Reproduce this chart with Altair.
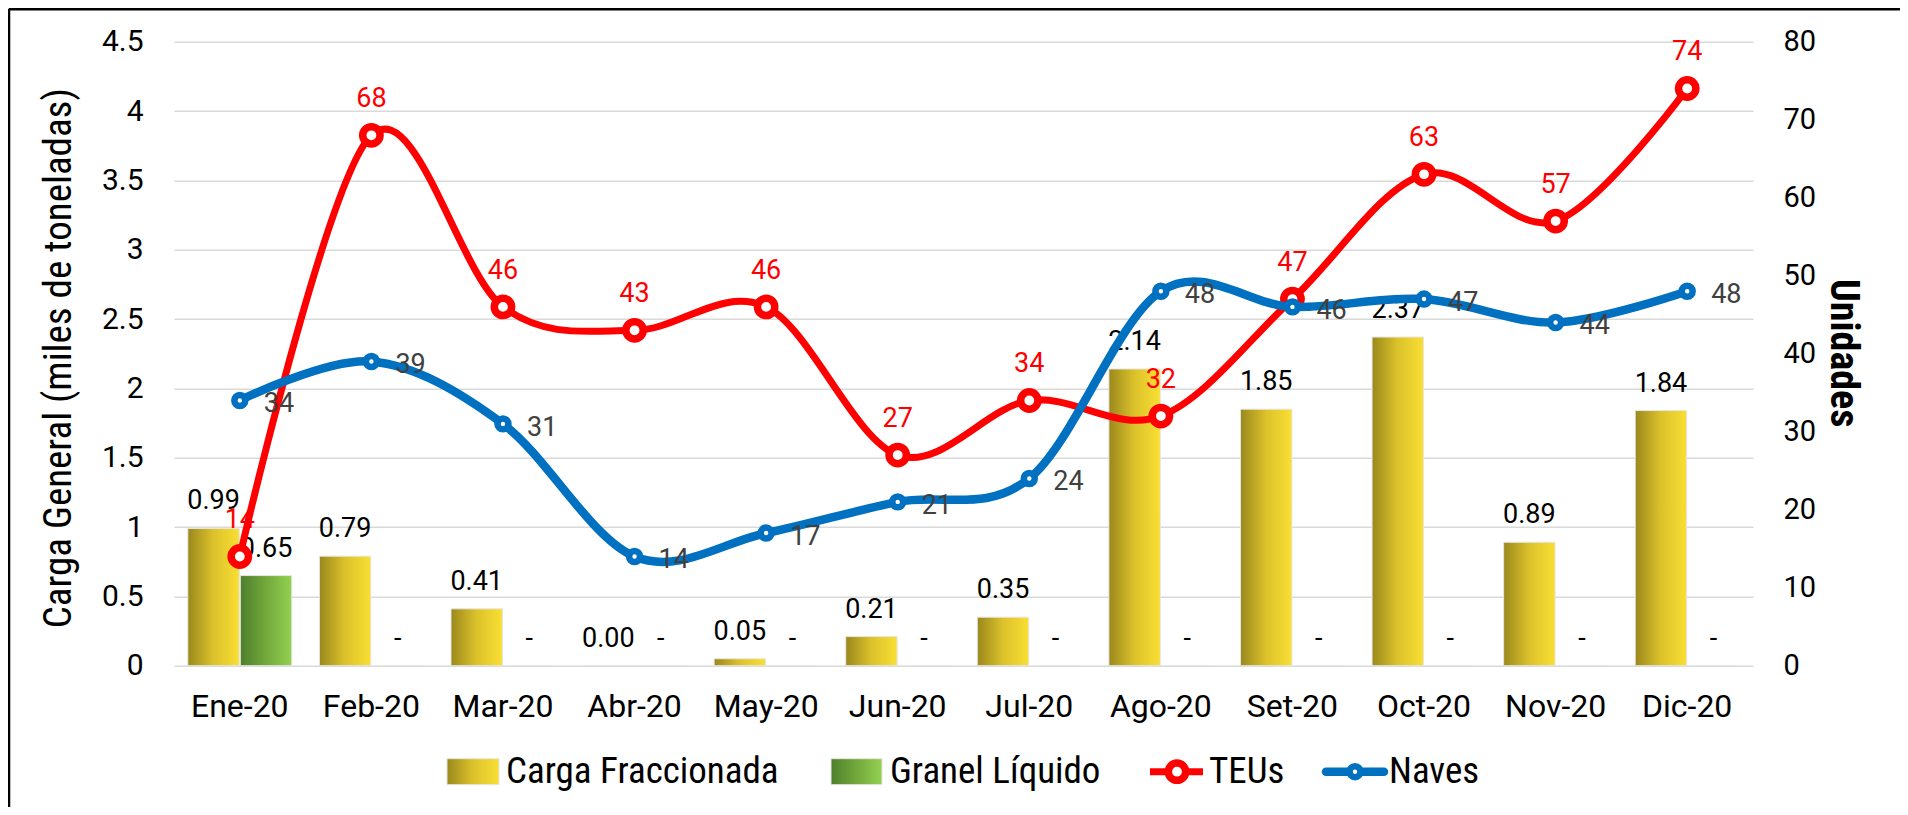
import altair as alt
import pandas as pd

# ---------------- data ----------------
months = ["Ene-20", "Feb-20", "Mar-20", "Abr-20", "May-20", "Jun-20",
          "Jul-20", "Ago-20", "Set-20", "Oct-20", "Nov-20", "Dic-20"]
carga_fraccionada = [0.99, 0.79, 0.41, 0.00, 0.05, 0.21, 0.35, 2.14, 1.85, 2.37, 0.89, 1.84]
granel_liquido = [0.65, 0, 0, 0, 0, 0, 0, 0, 0, 0, 0, 0]
teus = [14, 68, 46, 43, 46, 27, 34, 32, 47, 63, 57, 74]
naves = [34, 39, 31, 14, 17, 21, 24, 48, 46, 47, 44, 48]
bar_series = ["Carga Fraccionada", "Granel Líquido"]
left_ticks = [0, 0.5, 1, 1.5, 2, 2.5, 3, 3.5, 4, 4.5]
right_ticks = [0, 10, 20, 30, 40, 50, 60, 70, 80]

bars = pd.DataFrame({
    "mes": months * 2,
    "serie": [bar_series[0]] * len(months) + [bar_series[1]] * len(months),
    "valor": carga_fraccionada + granel_liquido,
})
bars["etiqueta"] = [
    "-" if (s == bar_series[1] and v == 0) else f"{v:.2f}"
    for s, v in zip(bars["serie"], bars["valor"])
]
lines = pd.DataFrame({"mes": months, "TEUs": teus, "Naves": naves})
one = pd.DataFrame({"k": [0]})

# ---------------- styles ----------------
FONT = "Roboto"
NARROW = "Roboto Condensed, Liberation Sans Narrow, Arial Narrow, DejaVu Sans Condensed, Roboto"
RED = "#ff0000"
BLUE = "#0070c0"
GOLD = alt.LinearGradient(gradient="linear", x1=0, x2=1, y1=0, y2=0, stops=[
    alt.GradientStop(color="#9a881c", offset=0),
    alt.GradientStop(color="#dcc22b", offset=0.5),
    alt.GradientStop(color="#f9df33", offset=1)])
GREEN = alt.LinearGradient(gradient="linear", x1=0, x2=1, y1=0, y2=0, stops=[
    alt.GradientStop(color="#4e7f2c", offset=0),
    alt.GradientStop(color="#72a83c", offset=0.5),
    alt.GradientStop(color="#93d150", offset=1)])

xscale = alt.Scale(domain=months, paddingInner=0.21, paddingOuter=0.105)
xaxis = alt.Axis(title=None, domain=False, ticks=False, grid=False, labelAngle=0,
                 labelFont=FONT, labelFontSize=32, labelColor="#000", labelPadding=26)
X = alt.X("mes:N", scale=xscale, axis=xaxis)
XOFF = alt.XOffset("serie:N", scale=alt.Scale(domain=bar_series, paddingInner=0.02))

lscale = alt.Scale(domain=[0, 4.5], nice=False, zero=True)
laxis = alt.Axis(orient="left", values=left_ticks, format="~g",
                 grid=True, gridColor="#d9d9d9", gridWidth=1.5,
                 domain=False, ticks=False, tickSize=0,
                 labelFont=FONT, labelFontSize=30, labelColor="#000", labelPadding=31,
                 title="Carga General (miles de toneladas)", titleFont=NARROW,
                 titleFontSize=39, titleFontWeight="normal", titleColor="#000",
                 titleAngle=270, titleX=-116, titleY=316,
                 titleAlign="center", titleBaseline="middle")
rscale = alt.Scale(domain=[0, 80], nice=False, zero=True)
raxis = alt.Axis(orient="right", values=right_ticks, grid=False,
                 domain=False, ticks=False, tickSize=0,
                 labelFont=FONT, labelFontSize=29, labelColor="#000", labelPadding=30,
                 title="Unidades", titleFont=NARROW, titleFontSize=40,
                 titleFontWeight="bold", titleColor="#000",
                 titleAngle=90, titleX=90, titleY=311,
                 titleAlign="center", titleBaseline="middle")

# ---------------- bars ----------------
bar_base = alt.Chart(bars)
bar_carga = bar_base.transform_filter(alt.datum.serie == bar_series[0]).mark_bar(
    color=GOLD, stroke="#e6e6e6", strokeWidth=1).encode(
    x=X, xOffset=XOFF, y=alt.Y("valor:Q", scale=lscale, axis=laxis))
bar_granel = bar_base.transform_filter(alt.datum.serie == bar_series[1]).mark_bar(
    color=GREEN, stroke="#e6e6e6", strokeWidth=1).encode(
    x=X, xOffset=XOFF, y=alt.Y("valor:Q", scale=lscale, axis=laxis))

# ---------------- lines ----------------
lbase = alt.Chart(lines)
teu_line = lbase.mark_line(interpolate="cardinal", color=RED, strokeWidth=7).encode(
    x=X, y=alt.Y("TEUs:Q", scale=rscale, axis=raxis))
teu_pts = lbase.mark_point(shape="circle", fill="white", stroke=RED, strokeWidth=7.5,
                           size=300, opacity=1, filled=False).encode(
    x=X, y=alt.Y("TEUs:Q", scale=rscale, axis=raxis))
nav_line = lbase.mark_line(interpolate="cardinal", color=BLUE, strokeWidth=8.5).encode(
    x=X, y=alt.Y("Naves:Q", scale=rscale, axis=raxis))
nav_pts = lbase.mark_point(shape="circle", fill="white", stroke=BLUE, strokeWidth=6.5,
                           size=120, opacity=1, filled=False).encode(
    x=X, y=alt.Y("Naves:Q", scale=rscale, axis=raxis))

# ---------------- labels ----------------
bar_labels = bar_base.mark_text(font=FONT, fontSize=27, color="#000", baseline="alphabetic",
                                dy=-19).encode(
    x=X, xOffset=XOFF,
    y=alt.Y("valor:Q", scale=lscale, axis=laxis), text="etiqueta:N")
teu_labels = lbase.mark_text(font=FONT, fontSize=27, color=RED, baseline="alphabetic",
                             dy=-28).encode(
    x=X, y=alt.Y("TEUs:Q", scale=rscale, axis=raxis), text="TEUs:Q")
nav_labels = lbase.mark_text(font=FONT, fontSize=27, color="#404040", baseline="middle",
                             align="left", dx=24, dy=4).encode(
    x=X, y=alt.Y("Naves:Q", scale=rscale, axis=raxis), text="Naves:Q")

left_group = alt.layer(bar_carga, bar_granel, bar_labels)
right_group = alt.layer(teu_line, teu_pts, nav_line, nav_pts, teu_labels, nav_labels)

# ---------------- legend & frame (decoration) ----------------
ob = alt.Chart(one)
LY = 730
leg = [
    ob.mark_rect(color=GOLD, stroke="#e6e6e6", strokeWidth=1).encode(
        x=alt.value(273), x2=alt.value(325), y=alt.value(LY - 13), y2=alt.value(LY + 13)),
    ob.mark_text(font=NARROW, fontSize=37, align="left", baseline="middle", color="#000").encode(
        x=alt.value(332), y=alt.value(LY), text=alt.value(bar_series[0])),
    ob.mark_rect(color=GREEN, stroke="#e6e6e6", strokeWidth=1).encode(
        x=alt.value(657), x2=alt.value(708), y=alt.value(LY - 13), y2=alt.value(LY + 13)),
    ob.mark_text(font=NARROW, fontSize=37, align="left", baseline="middle", color="#000").encode(
        x=alt.value(716), y=alt.value(LY), text=alt.value(bar_series[1])),
    ob.mark_rule(color=RED, strokeWidth=7).encode(
        x=alt.value(976), x2=alt.value(1029), y=alt.value(LY)),
    ob.mark_point(shape="circle", fill="white", stroke=RED, strokeWidth=7.5, size=300,
                  opacity=1, filled=False).encode(x=alt.value(1003), y=alt.value(LY)),
    ob.mark_text(font=NARROW, fontSize=37, align="left", baseline="middle", color="#000").encode(
        x=alt.value(1035), y=alt.value(LY), text=alt.value("TEUs")),
    ob.mark_rule(color=BLUE, strokeWidth=8.5, strokeCap="round").encode(
        x=alt.value(1152), x2=alt.value(1210), y=alt.value(LY)),
    ob.mark_point(shape="circle", fill="white", stroke=BLUE, strokeWidth=6.5, size=120,
                  opacity=1, filled=False).encode(x=alt.value(1181), y=alt.value(LY)),
    ob.mark_text(font=NARROW, fontSize=37, align="left", baseline="middle", color="#000").encode(
        x=alt.value(1215), y=alt.value(LY), text=alt.value("Naves")),
    ob.mark_rule(color="#000", strokeWidth=2.5).encode(
        x=alt.value(-165), x2=alt.value(1726), y=alt.value(-32.5)),
    ob.mark_rule(color="#000", strokeWidth=2.5).encode(
        x=alt.value(-165), y=alt.value(-33), y2=alt.value(770)),
]
deco = alt.layer(*leg)

chart = alt.layer(left_group, right_group, deco).resolve_scale(
    y="independent"
).properties(
    width=1579, height=624,
    autosize=alt.AutoSizeParams(type="none"),
    padding={"left": 166, "top": 33.7, "right": 147, "bottom": 141},
    background="white",
).configure_view(stroke=None)

chart.save("out.html", embed_options={"renderer": "svg", "actions": False})
